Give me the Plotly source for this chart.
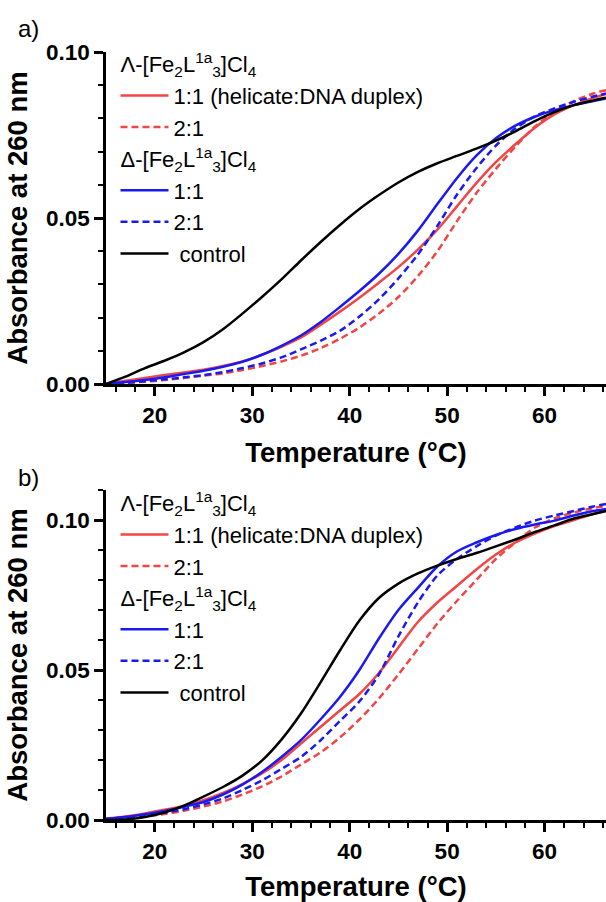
import plotly.graph_objects as go

# Temperature grid (°C)
temps = [15, 17, 19, 21, 23, 25, 27, 29, 31, 33, 35, 37, 39, 41, 43, 45, 47, 49,
         51, 53, 55, 57, 59, 61, 63, 65, 66.3]

# Panel a) absorbance at 260 nm
a_lam_11 = [0.0000, 0.0010, 0.0018, 0.0027, 0.0035, 0.0043, 0.0054, 0.0068, 0.0088,
            0.0112, 0.0140, 0.0178, 0.0218, 0.0260, 0.0305, 0.0352, 0.0405, 0.0465,
            0.0535, 0.0605, 0.0668, 0.0722, 0.0772, 0.0812, 0.0840, 0.0862, 0.0874]
a_lam_21 = [0.0000, 0.0003, 0.0007, 0.0012, 0.0018, 0.0025, 0.0032, 0.0042, 0.0054,
            0.0068, 0.0085, 0.0108, 0.0136, 0.0170, 0.0212, 0.0262, 0.0325, 0.0400,
            0.0490, 0.0575, 0.0648, 0.0715, 0.0775, 0.0820, 0.0852, 0.0875, 0.0885]
a_del_11 = [0.0000, 0.0006, 0.0012, 0.0020, 0.0030, 0.0040, 0.0052, 0.0067, 0.0088,
            0.0115, 0.0146, 0.0186, 0.0232, 0.0280, 0.0332, 0.0392, 0.0462, 0.0542,
            0.0620, 0.0688, 0.0740, 0.0778, 0.0805, 0.0825, 0.0840, 0.0852, 0.0860]
a_del_21 = [0.0000, 0.0004, 0.0008, 0.0014, 0.0020, 0.0027, 0.0036, 0.0048, 0.0062,
            0.0080, 0.0104, 0.0130, 0.0160, 0.0203, 0.0255, 0.0318, 0.0390, 0.0476,
            0.0570, 0.0650, 0.0718, 0.0770, 0.0806, 0.0830, 0.0850, 0.0866, 0.0875]
a_control = [0.0000, 0.0022, 0.0048, 0.0070, 0.0095, 0.0126, 0.0165, 0.0212, 0.0262,
             0.0315, 0.0372, 0.0427, 0.0479, 0.0527, 0.0569, 0.0607, 0.0639, 0.0665,
             0.0687, 0.0709, 0.0733, 0.0761, 0.0792, 0.0819, 0.0840, 0.0854, 0.0862]

# Panel b) absorbance at 260 nm
b_lam_11 = [0.0005, 0.0012, 0.0022, 0.0034, 0.0048, 0.0066, 0.0090, 0.0120, 0.0155,
            0.0200, 0.0255, 0.0310, 0.0365, 0.0420, 0.0490, 0.0575, 0.0660, 0.0725,
            0.0780, 0.0835, 0.0885, 0.0925, 0.0955, 0.0980, 0.1000, 0.1020, 0.1030]
b_lam_21 = [0.0002, 0.0006, 0.0012, 0.0020, 0.0031, 0.0045, 0.0062, 0.0085, 0.0112,
            0.0145, 0.0185, 0.0225, 0.0275, 0.0335, 0.0405, 0.0485, 0.0570, 0.0655,
            0.0730, 0.0800, 0.0870, 0.0925, 0.0975, 0.1005, 0.1025, 0.1040, 0.1047]
b_del_11 = [0.0003, 0.0010, 0.0019, 0.0030, 0.0044, 0.0060, 0.0085, 0.0118, 0.0160,
            0.0210, 0.0266, 0.0335, 0.0410, 0.0500, 0.0605, 0.0700, 0.0774, 0.0845,
            0.0895, 0.0925, 0.0950, 0.0970, 0.0985, 0.0998, 0.1015, 0.1030, 0.1037]
b_del_21 = [0.0003, 0.0008, 0.0015, 0.0024, 0.0036, 0.0052, 0.0072, 0.0100, 0.0132,
            0.0170, 0.0210, 0.0265, 0.0330, 0.0395, 0.0485, 0.0612, 0.0725, 0.0815,
            0.0870, 0.0912, 0.0948, 0.0975, 0.0998, 0.1015, 0.1030, 0.1045, 0.1053]
b_control = [0.0000, 0.0002, 0.0010, 0.0025, 0.0048, 0.0078, 0.0110, 0.0148, 0.0198,
             0.0268, 0.0355, 0.0458, 0.0565, 0.0665, 0.0740, 0.0788, 0.0822, 0.0848,
             0.0870, 0.0890, 0.0912, 0.0935, 0.0960, 0.0982, 0.1005, 0.1020, 0.1030]

lam_title = "\u039b-[Fe<sub>2</sub>L<sup>1a</sup><sub>3</sub>]Cl<sub>4</sub>"
del_title = "\u0394-[Fe<sub>2</sub>L<sup>1a</sup><sub>3</sub>]Cl<sub>4</sub>"
names = ["1:1 (helicate:DNA duplex)", "2:1", "1:1", "2:1", " control"]

RED = "#F24545"
BLUE = "#1A1AF0"
BLACK = "#000000"
FONT = "Liberation Sans"
DASH = "7px,4px"
LEG_SIZE = 22

panels = [
    ("x", "y", "legend", [a_lam_11, a_lam_21, a_del_11, a_del_21, a_control]),
    ("x2", "y2", "legend2", [b_lam_11, b_lam_21, b_del_11, b_del_21, b_control]),
]
styles = [
    (RED, "solid", "lam", lam_title),
    (RED, DASH, "lam", lam_title),
    (BLUE, "solid", "del", del_title),
    (BLUE, DASH, "del", del_title),
    (BLACK, "solid", "ctrl", None),
]

fig = go.Figure()
for xa, ya, leg, series in panels:
    for vals, name, (col, dash, grp, gtitle) in zip(series, names, styles):
        tr = dict(
            x=temps, y=vals, mode="lines", name=name, xaxis=xa, yaxis=ya,
            legend=leg, legendgroup=grp,
            line=dict(color=col, width=2.5, dash=dash, shape="spline", smoothing=0.8),
        )
        if gtitle:
            tr["legendgrouptitle"] = dict(text=gtitle, font=dict(family=FONT, size=LEG_SIZE, color="black"))
        fig.add_trace(go.Scatter(**tr))

W, H = 606, 902
ml, mr, mt, mb = 106, 0, 52, 82
ph = H - mt - mb


def ydom(top_px, bot_px):
    return [(H - mb - bot_px) / ph, (H - mb - top_px) / ph]


tickfont = dict(family=FONT, size=22.5, color="black", weight="bold")
xtitle = dict(text="Temperature (\u00b0C)", font=dict(family=FONT, size=27.5, color="black", weight="bold"), standoff=16)
ytitle = dict(text="Absorbance at 260 nm", font=dict(family=FONT, size=27.5, color="black", weight="bold"), standoff=11)

common_x = dict(range=[15, 66.3], dtick=10, tick0=0, showline=True, linewidth=2.5, linecolor="black",
                ticks="outside", ticklen=9, tickwidth=2.5, tickcolor="black", showgrid=False,
                zeroline=False, tickfont=tickfont, title=xtitle, automargin=False,
                minor=dict(dtick=2, tick0=0, ticks="outside", ticklen=5, tickwidth=2, tickcolor="black"))
common_y = dict(dtick=0.05, tick0=0, tickformat=".2f", showline=True, linewidth=2.5, linecolor="black",
                ticks="outside", ticklen=9, tickwidth=2.5, tickcolor="black", showgrid=False,
                zeroline=False, tickfont=tickfont, title=ytitle, automargin=False,
                minor=dict(dtick=0.01, tick0=0, ticks="outside", ticklen=5, tickwidth=2, tickcolor="black"))

leg_common = dict(xanchor="left", yanchor="top", bgcolor="rgba(0,0,0,0)",
                  font=dict(family=FONT, size=LEG_SIZE, color="black"),
                  tracegroupgap=0, itemwidth=48)

fig.update_layout(
    width=W, height=H,
    margin=dict(l=ml, r=mr, t=mt, b=mb),
    paper_bgcolor="white", plot_bgcolor="white",
    font=dict(family=FONT, color="black"),
    xaxis=dict(common_x, domain=[0, 1], anchor="y"),
    yaxis=dict(common_y, range=[0, 0.10], domain=ydom(52, 384), anchor="x"),
    xaxis2=dict(common_x, domain=[0, 1], anchor="y2"),
    yaxis2=dict(common_y, range=[0, 0.11], domain=ydom(490, 820), anchor="x2"),
    legend=dict(leg_common, x=0.019, y=(H - mb - 43) / ph),
    legend2=dict(leg_common, x=0.019, y=(H - mb - 482) / ph),
    annotations=[
        dict(text="a)", xref="paper", yref="paper", x=(16 - ml) / (W - ml - mr), y=(H - mb - 28) / ph,
             xanchor="left", yanchor="middle", showarrow=False, font=dict(family=FONT, size=24, color="black")),
        dict(text="b)", xref="paper", yref="paper", x=(16 - ml) / (W - ml - mr), y=(H - mb - 477) / ph,
             xanchor="left", yanchor="middle", showarrow=False, font=dict(family=FONT, size=24, color="black")),
    ],
    showlegend=True,
)

fig.write_html("out.html", post_script="document.body.style.margin='0px';",
               config={"displayModeBar": False})
